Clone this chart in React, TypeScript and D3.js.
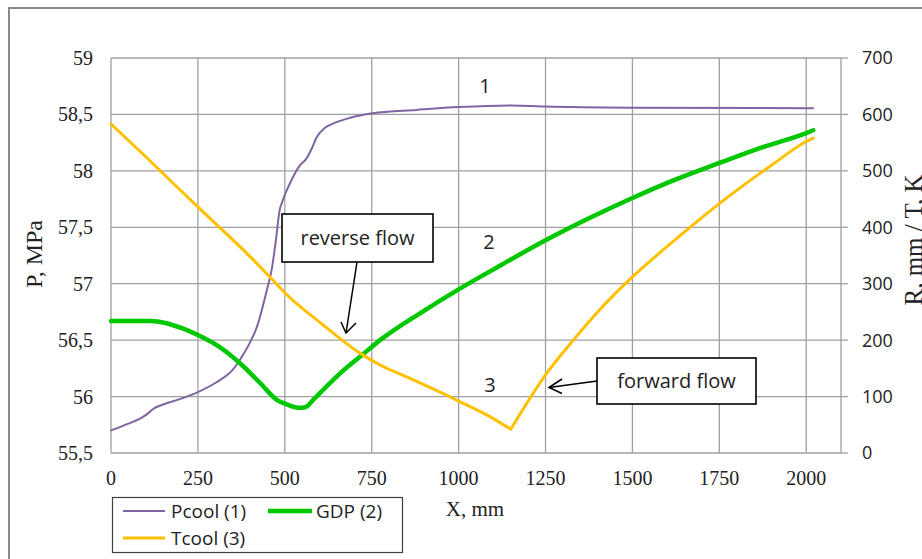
import React from 'react'
import * as d3 from 'd3'

// X, mm positions, one list per series
const xPcool = [0, 50, 92, 110, 121, 150, 200, 250, 300, 351, 380, 400, 420, 448, 462, 475, 485, 492, 515, 544, 560, 578, 592, 615, 640, 688, 752, 879, 1000, 1150, 1250, 1500, 2000, 2020]
const pcool = [55.70, 55.76, 55.82, 55.86, 55.89, 55.93, 55.98, 56.04, 56.12, 56.24, 56.37, 56.48, 56.62, 56.94, 57.12, 57.40, 57.65, 57.72, 57.89, 58.05, 58.10, 58.20, 58.30, 58.38, 58.42, 58.47, 58.51, 58.54, 58.565, 58.58, 58.57, 58.56, 58.555, 58.555]

const xGdp = [0, 112, 160, 200, 250, 304, 371, 429, 477, 506, 530, 550, 565, 580, 601, 659, 725, 774, 900, 1000, 1125, 1250, 1375, 1500, 1625, 1750, 1875, 2000, 2020]
const gdp = [234, 234, 230, 222, 209, 191, 159, 124, 94, 86, 81, 80, 83, 93, 106, 141, 175, 200, 252, 290, 334, 377, 416, 452, 485, 514, 542, 567, 572]

const xTcool = [0, 100, 199, 300, 400, 457, 480, 500, 600, 716, 774, 850, 900, 1000, 1100, 1150, 1200, 1253, 1330, 1400, 1500, 1600, 1750, 1900, 2000, 2020]
const tcool = [583, 525, 466, 407, 348, 312, 297, 284, 232, 177, 156, 135, 121, 92, 61, 42, 92, 141, 200, 250, 312, 366, 442, 510, 552, 558]

const xTicks = [0, 250, 500, 750, 1000, 1250, 1500, 1750, 2000]
const pTicks = [55.5, 56, 56.5, 57, 57.5, 58, 58.5, 59]
const rTicks = [0, 100, 200, 300, 400, 500, 600, 700]

const W = 922, H = 559
const plot = { left: 111, right: 841, top: 58, bottom: 453 }

const x = d3.scaleLinear().domain([0, 2100]).range([plot.left, plot.right])
const yP = d3.scaleLinear().domain([55.5, 59]).range([plot.bottom, plot.top])
const yR = d3.scaleLinear().domain([0, 700]).range([plot.bottom, plot.top])

const serif = '"Liberation Serif", "Times New Roman", serif'
const sans = '"Open Sans", "Noto Sans", sans-serif'
const gridColor = '#a0a0a0'
const comma = (d: number) => String(d).replace('.', ',')

// sharp=true splits the curve at its lowest point so the corner stays pointed
const Series = ({ xs, ys, y, color, width, sharp }: any) => {
    const pts = xs.map((v: number, i: number) => [v, ys[i]])
    const line = d3.line<number[]>()
        .x(d => x(d[0]))
        .y(d => y(d[1]))
        .curve(d3.curveMonotoneX)
    let d = line(pts) || ''
    if (sharp) {
        const k = d3.minIndex(ys)
        d = (line(pts.slice(0, k + 1)) || '') + (line(pts.slice(k)) || '')
    }
    return <path d={d} fill="none" stroke={color} strokeWidth={width} strokeLinejoin="round" strokeLinecap="round" />
}

const Grid = () => (
    <g>
        {xTicks.map(t => <line key={'v' + t} x1={x(t)} x2={x(t)} y1={plot.top} y2={plot.bottom} stroke={gridColor} strokeWidth={1.3} />)}
        {pTicks.map(t => <line key={'h' + t} x1={plot.left} x2={plot.right} y1={yP(t)} y2={yP(t)} stroke={gridColor} strokeWidth={1.3} />)}
        <line x1={plot.right} x2={plot.right} y1={plot.top} y2={plot.bottom} stroke={gridColor} strokeWidth={1.3} />
        {rTicks.map(t => <line key={'rt' + t} x1={plot.right} x2={plot.right + 7} y1={yR(t)} y2={yR(t)} stroke={gridColor} strokeWidth={1.3} />)}
    </g>
)

const Axes = () => (
    <g>
        {pTicks.map(t => (
            <text key={'pl' + t} x={93} y={yP(t)} dy="0.35em" textAnchor="end" fontFamily={serif} fontSize={20} fill="#222">{comma(t)}</text>
        ))}
        {rTicks.map(t => (
            <text key={'rl' + t} x={862} y={yR(t)} dy="0.36em" textAnchor="start" fontFamily={sans} fontSize={18} fill="#222">{t}</text>
        ))}
        {xTicks.map(t => (
            <text key={'xl' + t} x={x(t)} y={485} textAnchor="middle" fontFamily={serif} fontSize={20} fill="#222">{t}</text>
        ))}
        <text x={475} y={516} textAnchor="middle" fontFamily={serif} fontSize={21} fill="#222">X, mm</text>
        <text transform="translate(42,254) rotate(-90)" textAnchor="middle" fontFamily={serif} fontSize={24} fill="#222">P, MPa</text>
        <text transform="translate(922,240) rotate(-90)" textAnchor="middle" fontFamily={serif} fontSize={25} fill="#222">R, mm / T, K</text>
    </g>
)

const Callout = ({ box, label, from, to, wings }: any) => (
    <g>
        <rect x={box[0]} y={box[1]} width={box[2] - box[0]} height={box[3] - box[1]} fill="#fff" stroke="#000" strokeWidth={1.6} />
        <text x={(box[0] + box[2]) / 2} y={(box[1] + box[3]) / 2} dy="0.35em" textAnchor="middle" fontFamily={sans} fontSize={20} fill="#222">{label}</text>
        <line x1={from[0]} y1={from[1]} x2={to[0]} y2={to[1]} stroke="#000" strokeWidth={1.5} />
        <path d={`M${wings[0][0]},${wings[0][1]}L${to[0]},${to[1]}L${wings[1][0]},${wings[1][1]}`} fill="none" stroke="#000" strokeWidth={1.5} />
    </g>
)

const Legend = () => (
    <g fontFamily={sans} fontSize={19} fill="#222">
        <rect x={112.5} y={497.5} width={290} height={55} fill="#fff" stroke="#404040" strokeWidth={1.2} />
        <line x1={123} x2={165} y1={511} y2={511} stroke="#8064a2" strokeWidth={2} />
        <text x={171} y={518}>Pcool (1)</text>
        <line x1={268} x2={312} y1={511} y2={511} stroke="#00c800" strokeWidth={4.5} />
        <text x={316} y={518}>GDP (2)</text>
        <line x1={123} x2={165} y1={538} y2={538} stroke="#ffc000" strokeWidth={3} />
        <text x={171} y={545}>Tcool (3)</text>
    </g>
)

export default function App() {
    return (
        <svg width={W} height={H} style={{ position: 'absolute', left: 0, top: 0, background: '#fff' }}>
            <rect x={9} y={8} width={W + 20} height={H + 20} fill="#fff" stroke="#8a8a8a" strokeWidth={2} />
            <Grid />
            <Series xs={xPcool} ys={pcool} y={yP} color="#8064a2" width={2} />
            <Series xs={xGdp} ys={gdp} y={yR} color="#00c800" width={4.5} />
            <Series xs={xTcool} ys={tcool} y={yR} color="#ffc000" width={3} sharp />
            <Axes />
            <g fontFamily={sans} fontSize={20} fill="#222" textAnchor="middle">
                <text x={485} y={86} dy="0.35em">1</text>
                <text x={489} y={242} dy="0.35em">2</text>
                <text x={490} y={385} dy="0.35em">3</text>
            </g>
            <Callout box={[282, 214, 433, 262]} label="reverse flow" from={[357, 262]} to={[346, 333]} wings={[[341, 322], [356, 323]]} />
            <Callout box={[597, 358, 756, 404]} label="forward flow" from={[597, 381]} to={[549, 387.5]} wings={[[562, 379], [562, 393.5]]} />
            <Legend />
        </svg>
    )
}
